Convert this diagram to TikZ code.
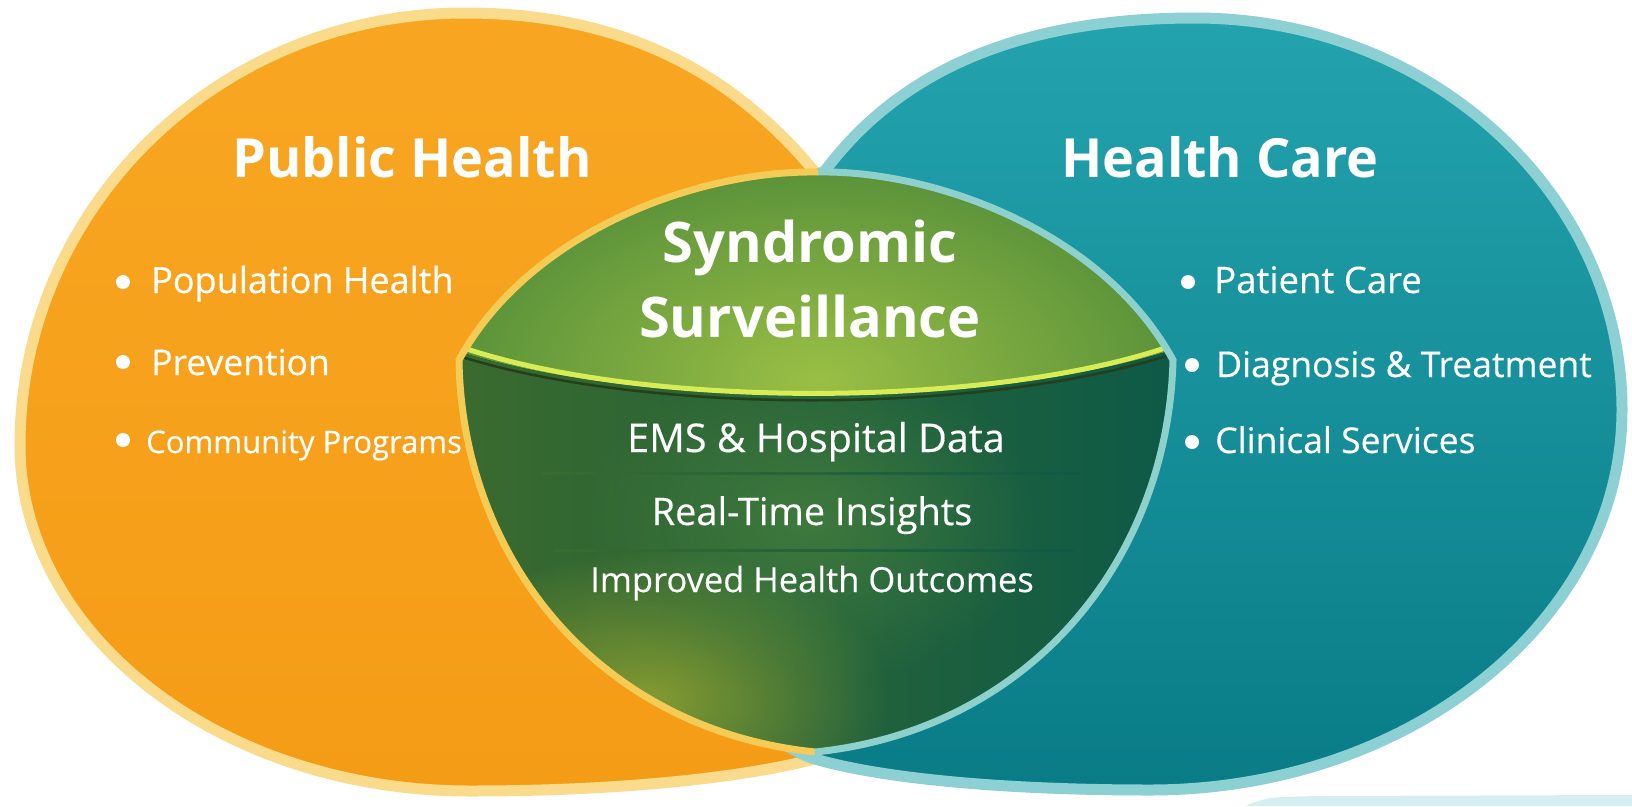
\documentclass[tikz,border=0pt]{standalone}
\usepackage{fontspec}
\setmainfont{Open Sans}
\newfontfamily\mediumfont{Open Sans}[FakeBold=0.35]
\usepackage{xcolor}
\definecolor{phTop}{HTML}{F8A622}
\definecolor{phBottom}{HTML}{F59C16}
\definecolor{phRim}{HTML}{FADB8C}
\definecolor{hcTop}{HTML}{23A3AE}
\definecolor{hcBottom}{HTML}{097C86}
\definecolor{hcRim}{HTML}{8CD0D3}
\definecolor{ssDomeLight}{HTML}{9ABF45}
\definecolor{ssDomeDark}{HTML}{4C8837}
\definecolor{ssLowLeft}{HTML}{3A6A2E}
\definecolor{ssLowMid}{HTML}{3D7C3C}
\definecolor{ssLowRight}{HTML}{0E5A47}
\definecolor{ssGlow}{HTML}{93A431}
\definecolor{ssDivider}{HTML}{D8EC55}
\definecolor{ssSep}{HTML}{C8E0BC}
\definecolor{ssLeftRim}{HTML}{F4CB55}
\definecolor{ssRightRim}{HTML}{8ED0CB}
\colorlet{mintStrip}{hcRim!35}
\usepackage{tikz}
\usetikzlibrary{fadings}

\tikzfading[name=glowfade, inner color=transparent!0, outer color=transparent!100]

\newcommand{\lensoutline}{(818,172) .. controls (700,170) and (530,230) .. (459,360)
  .. controls (462,560) and (600,730) .. (815,752)
  .. controls (1030,730) and (1168,560) .. (1173,360)
  .. controls (1102,230) and (932,170) .. (818,172) -- cycle}

\begin{document}
\begin{tikzpicture}[x=1pt, y=-1pt,
    headtext/.style={font=\fontsize{54}{60}\selectfont\bfseries, text=white, inner sep=0pt, anchor=base},
    centrehead/.style={headtext, font=\fontsize{56}{64}\selectfont\bfseries},
    bullettext/.style={font=\mediumfont\fontsize{35.5}{40}\selectfont, text=white, inner sep=0pt, anchor=base west},
    centretext/.style={text=white, inner sep=0pt, anchor=base}]
\useasboundingbox (0,0) rectangle (1632,806);

% public health
\path[draw=phRim, line width=11, top color=phTop, bottom color=phBottom]
  (815,172) .. controls (730,70) and (620,13) .. (465,13)
  .. controls (219,13) and (20,207) .. (20,445)
  .. controls (20,636) and (222,791) .. (470,791)
  .. controls (620,791) and (740,778) .. (815,759)
  .. controls (900,738) and (1100,600) .. (1100,400)
  .. controls (1100,250) and (950,200) .. (815,172) -- cycle;

% health care
\path[draw=hcRim, line width=11, top color=hcTop, bottom color=hcBottom]
  (824,172) .. controls (900,70) and (1020,18) .. (1195,18)
  .. controls (1431,18) and (1622,194) .. (1622,410)
  .. controls (1622,620) and (1410,790) .. (1150,790)
  .. controls (1000,790) and (880,778) .. (815,759)
  .. controls (740,738) and (500,500) .. (520,380)
  .. controls (560,280) and (720,200) .. (824,172) -- cycle;

\fill[mintStrip] (1245,806) .. controls (1268,797) .. (1320,796) -- (1632,795) -- (1632,806) -- cycle;

% syndromic surveillance lens
\fill[left color=ssLowLeft, middle color=ssLowMid, right color=ssLowRight] \lensoutline;
\begin{scope}
  \clip \lensoutline;
  \fill[ssGlow, path fading=glowfade, opacity=0.85] (650,700) ellipse (240 and 150);
  \fill[ssLowMid!80!ssDomeLight, path fading=glowfade, opacity=0.6] (810,520) ellipse (230 and 170);
  \clip (430,150) -- (430,352) -- (460,352) .. controls (650,410) and (980,410) .. (1172,350)
    -- (1200,350) -- (1200,150) -- cycle;
  \fill[inner color=ssDomeLight, outer color=ssDomeDark] (818,380) ellipse (450 and 260);
\end{scope}
\draw[ssLowLeft!60!black, line width=2.5] (462,357) .. controls (650,415) and (980,415) .. (1170,355);
\draw[ssDivider, line width=5, line cap=round] (470,350) .. controls (650,408) and (980,408) .. (1162,349);
\draw[ssLeftRim, line width=7] (818,172) .. controls (700,170) and (530,230) .. (459,360)
  .. controls (462,560) and (600,730) .. (815,752);
\draw[ssRightRim, line width=7] (818,172) .. controls (932,170) and (1102,230) .. (1173,360)
  .. controls (1168,560) and (1030,730) .. (815,752);

% separators
\shade[left color=ssLowLeft, middle color=ssSep, right color=ssLowRight] (542,472) rectangle (1080,474.5);
\shade[left color=ssLowLeft, middle color=ssSep, right color=ssLowRight] (554,549) rectangle (1073,551.5);

% titles
\node[headtext] (phTitle) at (412,177) {Public Health};
\node[headtext] (hcTitle) at (1220,177) {Health Care};
\node[centrehead] (ssTop) at (810,262) {Syndromic};
\node[centrehead] (ssBottom) at (810,337) {Surveillance};

\node[centretext, font=\mediumfont\fontsize{39.5}{44}\selectfont] (emsData) at (816,452) {EMS \& Hospital Data};
\node[centretext, font=\mediumfont\fontsize{38}{42}\selectfont] (rtInsights) at (812,525) {Real-Time Insights};
\node[centretext, font=\mediumfont\fontsize{34.5}{40}\selectfont] (outcomes) at (812,592) {Improved Health Outcomes};

% bullet lists
\node[bullettext, font=\mediumfont\fontsize{36}{40}\selectfont] (popHealth) at (151,293) {Population Health};
\node[bullettext] (prevention) at (151,375) {Prevention};
\node[bullettext, font=\mediumfont\fontsize{31}{36}\selectfont] (community) at (146,453) {Community Programs};
\node[bullettext, font=\mediumfont\fontsize{36.5}{40}\selectfont] (patientCare) at (1214,293) {Patient Care};
\node[bullettext] (diagnosis) at (1216,377) {Diagnosis \& Treatment};
\node[bullettext] (clinical) at (1215,453) {Clinical Services};

\foreach \bx/\by in {123/282, 123/362, 123/440, 1188/282, 1192/365, 1192/442}
  \fill[white] (\bx,\by) circle (7);
\end{tikzpicture}
\end{document}
